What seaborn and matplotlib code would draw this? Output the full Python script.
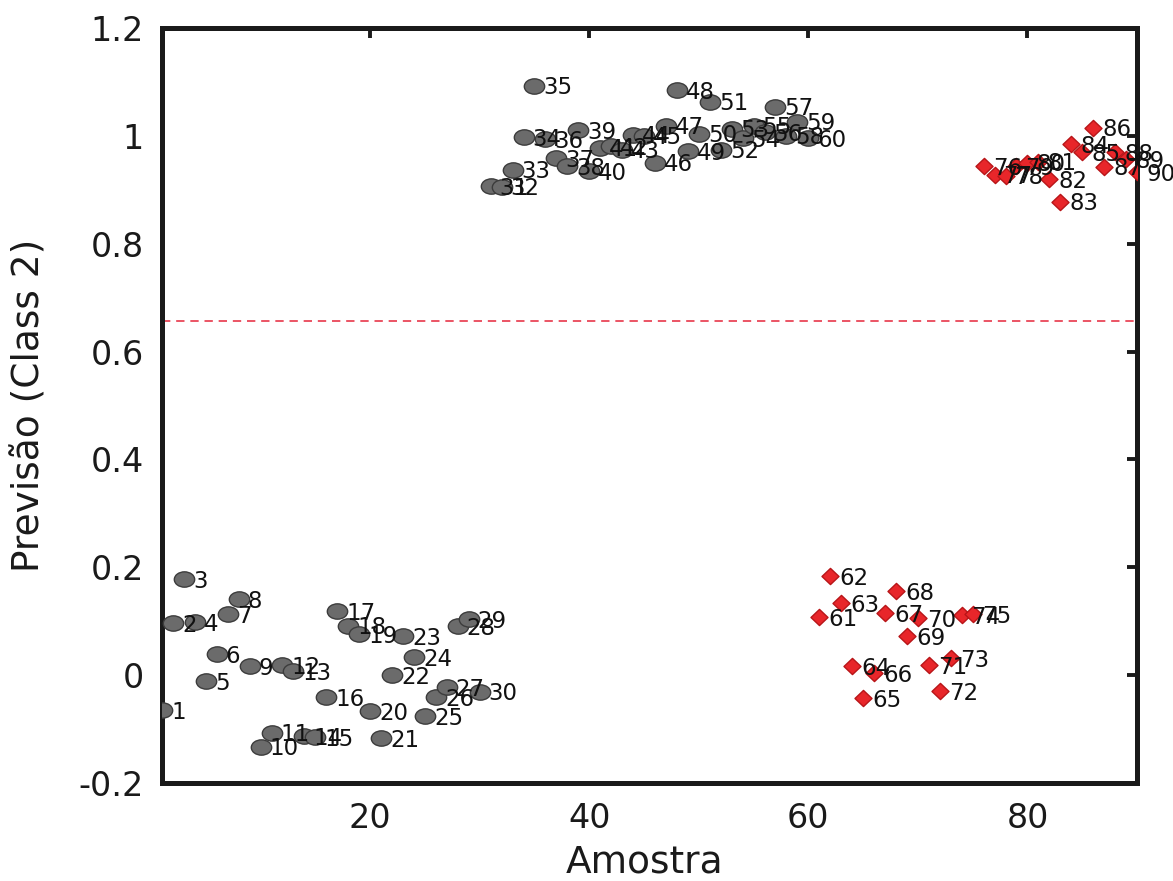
import numpy as np
import pandas as pd
import matplotlib
matplotlib.use("Agg")
import matplotlib.pyplot as plt
from matplotlib.path import Path
from matplotlib.transforms import Affine2D
import seaborn as sns

# ---- data ----
samples = list(range(1, 91))
pred_class1 = [-0.065, 0.096, 0.178, 0.098, -0.011, 0.039, 0.113, 0.141, 0.017, -0.133,
               -0.107, 0.018, 0.007, -0.113, -0.115, -0.041, 0.119, 0.092, 0.076, -0.067,
               -0.117, 0.000, 0.072, 0.033, -0.076, -0.041, -0.022, 0.091, 0.104, -0.031,
               0.907, 0.906, 0.937, 0.998, 1.093, 0.994, 0.959, 0.944, 1.011, 0.935,
               0.978, 0.981, 0.974, 1.002, 1.000, 0.950, 1.019, 1.085, 0.972, 1.004,
               1.063, 0.974, 1.013, 0.996, 1.019, 1.007, 1.054, 1.000, 1.026, 0.996]
pred_class2 = [0.107, 0.183, 0.133, 0.017, -0.043, 0.004, 0.115, 0.156, 0.072, 0.106,
               0.019, -0.030, 0.031, 0.111, 0.113,
               0.944, 0.928, 0.926, 0.944, 0.950, 0.952, 0.920, 0.878, 0.985, 0.970,
               1.015, 0.943, 0.970, 0.957, 0.933]
threshold = 0.657
x_ticks = [20, 40, 60, 80]
y_ticks = [-0.2, 0, 0.2, 0.4, 0.6, 0.8, 1.0, 1.2]
x_label = "Amostra"
y_label = "Previsão (Class 2)"

df = pd.DataFrame({
    "Amostra": samples,
    "Previsao": pred_class1 + pred_class2,
    "grupo": ["g1"] * len(pred_class1) + ["g2"] * len(pred_class2),
})

sns.set_theme(style="white")
plt.rcParams["font.family"] = ["DejaVu Sans"]
plt.rcParams["axes.unicode_minus"] = False

fig = plt.figure(figsize=(11.73, 8.81), dpi=100)
ax = fig.add_axes([0.1381, 0.1112, 0.8312, 0.8570])

# ellipse marker (the reference is horizontally stretched)
circ = Path.unit_circle()
ellipse = Path(Affine2D().scale(1.33, 1.0).transform(circ.vertices), circ.codes)
diamond = Path([(0, 1), (1.05, 0), (0, -1), (-1.05, 0), (0, 1)],
               [Path.MOVETO, Path.LINETO, Path.LINETO, Path.LINETO, Path.CLOSEPOLY])

d1 = df[df["grupo"] == "g1"]
d2 = df[df["grupo"] == "g2"]
sns.scatterplot(data=d1, x="Amostra", y="Previsao", ax=ax, marker=ellipse, s=215,
                color="#6b6b6b", edgecolor="#3c3c3c", linewidth=1.0, zorder=3, legend=False)
sns.scatterplot(data=d2, x="Amostra", y="Previsao", ax=ax, marker=diamond, s=150,
                color="#e8262a", edgecolor="#b81518", linewidth=1.0, zorder=3, legend=False)

ax.axhline(threshold, color="#e8374a", linestyle=(0, (5, 3.5)), linewidth=1.2, zorder=2)

for xi, yi in zip(df["Amostra"], df["Previsao"]):
    ax.annotate(str(xi), (xi, yi), xytext=(6.5, -1.5), textcoords="offset points",
                ha="left", va="center", fontsize=16.5, color="#111111", zorder=4)

ax.set_xlim(1, 90)
ax.set_ylim(-0.2, 1.2)
ax.set_xticks(x_ticks)
ax.set_yticks(y_ticks)
ax.set_yticklabels([("%g" % v) for v in y_ticks])
ax.set_xlabel(x_label, fontsize=27, color="#1a1a1a")
ax.set_ylabel(y_label, fontsize=27, color="#1a1a1a")
ax.xaxis.label.set_va("baseline")
ax.xaxis.set_label_coords(0.495, -0.118)
ax.yaxis.set_label_coords(-0.117, 0.5)
ax.tick_params(axis="both", which="both", direction="in", length=7, width=2.8,
               labelsize=24, colors="#1a1a1a", top=True, right=True)
ax.tick_params(axis="x", pad=14)
ax.tick_params(axis="y", pad=13)
for sp in ax.spines.values():
    sp.set_linewidth(3.6)
    sp.set_color("#1a1a1a")
    sp.set_visible(True)
ax.grid(False)

fig.savefig("out.png", dpi=100)
